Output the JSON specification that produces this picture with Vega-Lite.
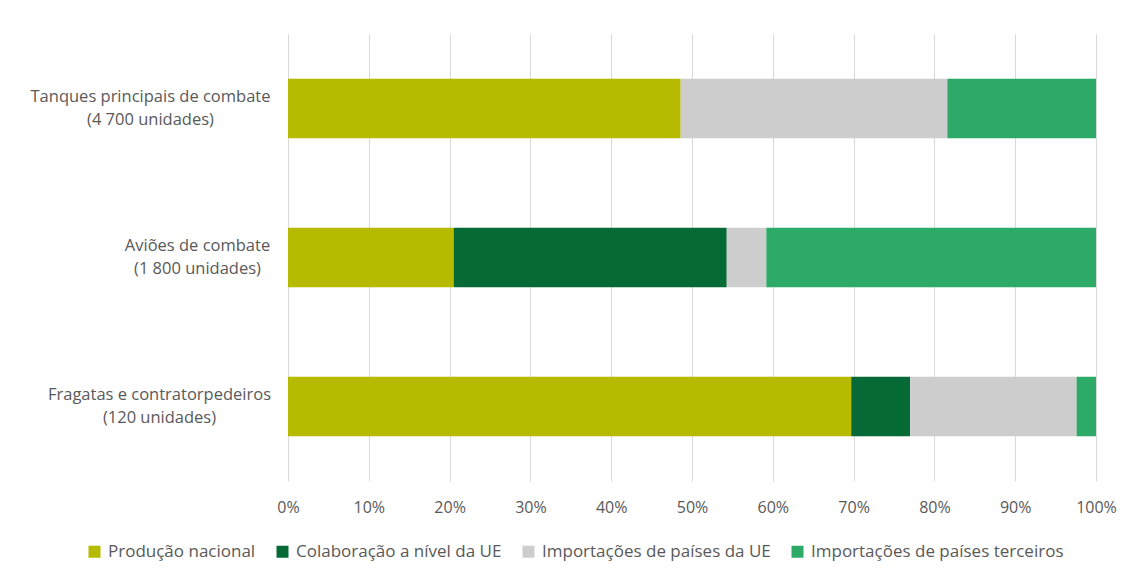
{
  "$schema": "https://vega.github.io/schema/vega-lite/v6.json",
  "autosize": {"type": "none"},
  "padding": {"left": 288, "top": 34, "right": 32, "bottom": 92},
  "width": 808,
  "height": 447,
  "background": "white",
  "config": {
    "view": {"stroke": null},
    "font": "Open Sans"
  },
  "data": {
    "values": [
      {"cat": "Tanques principais de combate|(4 700 unidades)", "serie": "Produção nacional", "ord": 1, "v": 48.6},
      {"cat": "Tanques principais de combate|(4 700 unidades)", "serie": "Colaboração a nível da UE", "ord": 2, "v": 0},
      {"cat": "Tanques principais de combate|(4 700 unidades)", "serie": "Importações de países da UE", "ord": 3, "v": 33.0},
      {"cat": "Tanques principais de combate|(4 700 unidades)", "serie": "Importações de países terceiros", "ord": 4, "v": 18.4},
      {"cat": "Aviões de combate|(1 800 unidades)", "serie": "Produção nacional", "ord": 1, "v": 20.5},
      {"cat": "Aviões de combate|(1 800 unidades)", "serie": "Colaboração a nível da UE", "ord": 2, "v": 33.8},
      {"cat": "Aviões de combate|(1 800 unidades)", "serie": "Importações de países da UE", "ord": 3, "v": 4.9},
      {"cat": "Aviões de combate|(1 800 unidades)", "serie": "Importações de países terceiros", "ord": 4, "v": 40.8},
      {"cat": "Fragatas e contratorpedeiros|(120 unidades)", "serie": "Produção nacional", "ord": 1, "v": 69.7},
      {"cat": "Fragatas e contratorpedeiros|(120 unidades)", "serie": "Colaboração a nível da UE", "ord": 2, "v": 7.3},
      {"cat": "Fragatas e contratorpedeiros|(120 unidades)", "serie": "Importações de países da UE", "ord": 3, "v": 20.6},
      {"cat": "Fragatas e contratorpedeiros|(120 unidades)", "serie": "Importações de países terceiros", "ord": 4, "v": 2.4}
    ]
  },
  "mark": {"type": "bar"},
  "encoding": {
    "y": {
      "field": "cat",
      "type": "nominal",
      "sort": null,
      "scale": {"paddingInner": 0.6, "paddingOuter": 0.3},
      "axis": {
        "title": null,
        "domain": false,
        "ticks": false,
        "labelExpr": "split(datum.value, '|')",
        "labelFont": "Open Sans",
        "labelFontSize": 16.5,
        "labelColor": "#595959",
        "labelLineHeight": 23,
        "labelAlign": "center",
        "labelBaseline": "middle",
        "labelOffset": -11.5,
        "labelLimit": 400,
        "labelPadding": {
          "condition": [
            {"test": "indexof(datum.value, 'Tanques') == 0", "value": 138},
            {"test": "indexof(datum.value, 'Aviões') == 0", "value": 91},
            {"test": "indexof(datum.value, 'Fragatas') == 0", "value": 129}
          ],
          "value": 129
        }
      }
    },
    "x": {
      "field": "v",
      "type": "quantitative",
      "stack": "normalize",
      "scale": {"domain": [0, 1], "nice": false},
      "axis": {
        "title": null,
        "domain": false,
        "ticks": false,
        "values": [0, 0.1, 0.2, 0.3, 0.4, 0.5, 0.6, 0.7, 0.8, 0.9, 1],
        "format": ".0%",
        "grid": true,
        "gridColor": "#D9D9D9",
        "gridWidth": 1,
        "labelFlush": false,
        "labelFont": "Open Sans",
        "labelFontSize": 16,
        "labelColor": "#595959",
        "labelPadding": 18
      }
    },
    "color": {
      "field": "serie",
      "type": "nominal",
      "scale": {
        "domain": ["Produção nacional", "Colaboração a nível da UE", "Importações de países da UE", "Importações de países terceiros"],
        "range": ["#B7BB00", "#056A36", "#CDCDCE", "#2DAA68"]
      },
      "legend": {
        "title": null,
        "orient": "none",
        "direction": "horizontal",
        "legendX": -202,
        "legendY": 509,
        "symbolType": "square",
        "symbolSize": 144,
        "symbolStrokeWidth": 0,
        "labelFont": "Open Sans",
        "labelFontSize": 17,
        "labelColor": "#595959",
        "labelOffset": 5,
        "labelLimit": 400,
        "columnPadding": 18
      }
    },
    "order": {"field": "ord", "type": "quantitative"}
  }
}
